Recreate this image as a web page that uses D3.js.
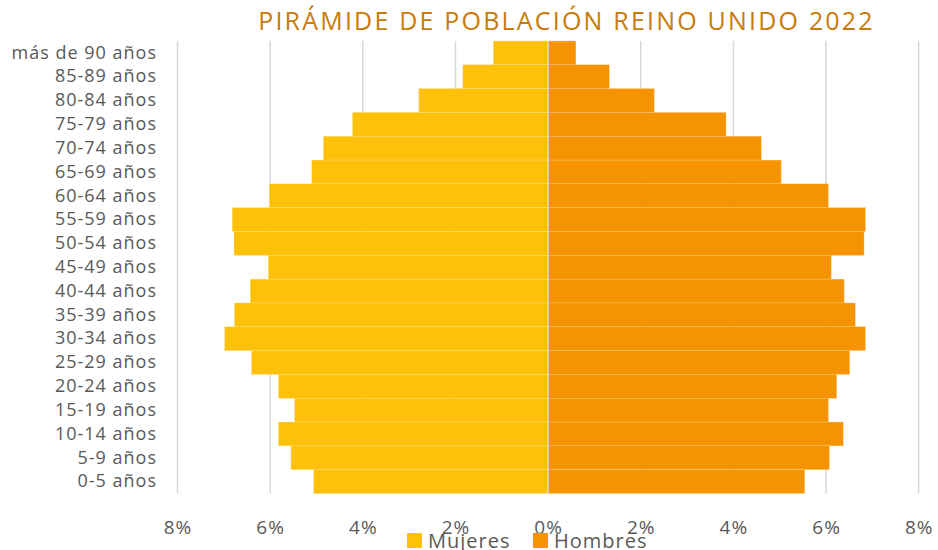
<!DOCTYPE html>
<html><head><meta charset="utf-8">
<script src="https://cdn.jsdelivr.net/npm/d3@7"></script>
<style>body{margin:0;background:#fff}svg{display:block;font-family:"Open Sans",sans-serif}</style>
</head><body>
<svg id="c" width="938" height="550"></svg>
<script>
const categories = ["más de 90 años","85-89 años","80-84 años","75-79 años","70-74 años","65-69 años","60-64 años","55-59 años","50-54 años","45-49 años","40-44 años","35-39 años","30-34 años","25-29 años","20-24 años","15-19 años","10-14 años","5-9 años","0-5 años"];
const mujeres = [1.18,1.84,2.79,4.22,4.85,5.10,6.02,6.82,6.78,6.04,6.43,6.77,6.98,6.40,5.82,5.47,5.82,5.55,5.06];
const hombres = [0.60,1.32,2.29,3.84,4.60,5.03,6.05,6.85,6.82,6.11,6.39,6.63,6.85,6.51,6.23,6.05,6.37,6.07,5.54];
const tickValues = [-8,-6,-4,-2,0,2,4,6,8];
const seriesNames = ["Mujeres","Hombres"];
const colors = ["#FDC10A","#F59400"];
const title = "PIRÁMIDE DE POBLACIÓN REINO UNIDO 2022";

const svg = d3.select("#c");
const x = d3.scaleLinear().domain([-8,8]).range([177.5,918.7]);
const y = d3.scaleBand().domain(categories).range([41,493.5]).padding(0);
const textColor = "#595959";

// gridlines
svg.append("g").selectAll("line").data(tickValues).join("line")
  .attr("x1",d=>x(d)).attr("x2",d=>x(d)).attr("y1",41).attr("y2",493.5)
  .attr("stroke","#D9D9D9").attr("stroke-width",1.5);

// bars
const rows = categories.map((c,i)=>({c,m:mujeres[i],h:hombres[i]}));
svg.append("g").selectAll("rect").data(rows).join("rect")
  .attr("x",d=>x(-d.m)).attr("width",d=>x(0)-x(-d.m))
  .attr("y",d=>y(d.c)).attr("height",y.bandwidth())
  .attr("fill",colors[0]).attr("stroke","#FDDC80").attr("stroke-width",0.4);
svg.append("g").selectAll("rect").data(rows).join("rect")
  .attr("x",x(0)).attr("width",d=>x(d.h)-x(0))
  .attr("y",d=>y(d.c)).attr("height",y.bandwidth())
  .attr("fill",colors[1]).attr("stroke","#F9C880").attr("stroke-width",0.4);

// zero line
svg.append("line").attr("x1",x(0)).attr("x2",x(0)).attr("y1",41).attr("y2",493.5)
  .attr("stroke","#D9D9D9").attr("stroke-width",1.5);

// y axis labels
const yAxis = d3.axisLeft(y).tickSize(0).tickPadding(0);
const gy = svg.append("g").attr("transform","translate(157,0)").call(yAxis);
gy.select(".domain").remove();
gy.selectAll("text").attr("fill",textColor).style("font-size","18px")
  .style("letter-spacing","1px").style("font-family","'Open Sans',sans-serif");

// x axis labels
const xAxis = d3.axisBottom(x).tickValues(tickValues).tickSize(0).tickPadding(0)
  .tickFormat(d=>Math.abs(d)+"%");
const gx = svg.append("g").attr("transform","translate(0,520)").call(xAxis);
gx.select(".domain").remove();
gx.selectAll("text").attr("fill",textColor).style("font-size","19px")
  .style("letter-spacing","1px").style("font-family","'Open Sans',sans-serif");

// title
svg.append("text").attr("x",566.5).attr("y",30).attr("text-anchor","middle")
  .attr("fill","#C97A0A").style("font-size","25px").style("letter-spacing","2.2px").text(title);

// legend
const legX = [407,533];
const leg = svg.append("g");
seriesNames.forEach((n,i)=>{
  leg.append("rect").attr("x",legX[i]).attr("y",533).attr("width",15).attr("height",15).attr("fill",colors[i]);
  leg.append("text").attr("x",legX[i]+21).attr("y",548).attr("fill",textColor)
    .style("font-size","20px").style("letter-spacing","1px").text(n);
});
</script>
</body></html>
